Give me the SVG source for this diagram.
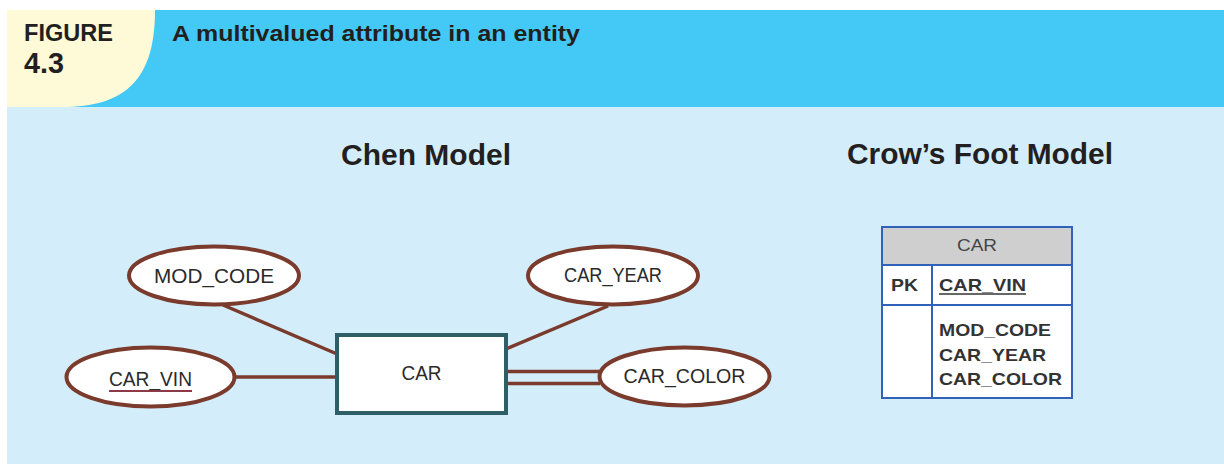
<svg xmlns="http://www.w3.org/2000/svg" width="1224" height="464" viewBox="0 0 1224 464">
  <style>
    .hdr { font-family: "Liberation Sans", Arial, sans-serif; font-weight: bold; fill: #231f20; }
    .attr { fill: #ffffff; stroke: #7a3a2c; stroke-width: 4; }
    .lbl { font-family: "Liberation Sans", Arial, sans-serif; font-size: 20px; fill: #2a2a2a; text-anchor: middle; }
    .link { stroke: #7a3a2c; stroke-width: 3.5; fill: none; }
    .tbl { font-family: "Liberation Sans", Arial, sans-serif; font-size: 17px; fill: #333333; }
    .grid { stroke: #2f62b8; stroke-width: 2; fill: none; }
  </style>

  <!-- page background and banner -->
  <rect x="0" y="0" width="1224" height="464" fill="#ffffff"/>
  <rect x="7" y="107" width="1217" height="357" fill="#d3eefa"/>
  <rect x="7" y="10" width="1217" height="97" fill="#44c8f5"/>
  <path d="M7,10 H155 C155,80 125,107 62,107 H7 Z" fill="#fef9d7"/>
  <text class="hdr" x="24" y="41" font-size="23" textLength="89" lengthAdjust="spacingAndGlyphs">FIGURE</text>
  <text class="hdr" x="24" y="73" font-size="30" textLength="40" lengthAdjust="spacingAndGlyphs">4.3</text>
  <text class="hdr" x="172" y="41" font-size="22" textLength="408" lengthAdjust="spacingAndGlyphs">A multivalued attribute in an entity</text>

  <!-- section headings -->
  <text class="hdr" x="341" y="165" font-size="29" textLength="170" lengthAdjust="spacingAndGlyphs">Chen Model</text>
  <text class="hdr" x="847" y="164" font-size="29" textLength="266" lengthAdjust="spacingAndGlyphs">Crow’s Foot Model</text>

  <!-- Chen model connectors -->
  <g id="connectors">
    <line class="link" x1="223" y1="305" x2="337" y2="354"/>
    <line class="link" x1="236" y1="377" x2="337" y2="377"/>
    <line class="link" x1="608" y1="306" x2="506" y2="349"/>
    <line class="link" x1="506" y1="371.5" x2="600" y2="371.5"/>
    <line class="link" x1="506" y1="383.5" x2="600" y2="383.5"/>
  </g>

  <!-- Chen model nodes -->
  <g id="mod-code">
    <ellipse class="attr" cx="214" cy="275.5" rx="85" ry="29"/>
    <text class="lbl" x="214" y="283" textLength="120" lengthAdjust="spacingAndGlyphs">MOD_CODE</text>
  </g>
  <g id="car-vin">
    <ellipse class="attr" cx="150.5" cy="377" rx="84" ry="29.5"/>
    <text class="lbl" x="150.5" y="386" textLength="83" lengthAdjust="spacingAndGlyphs">CAR_VIN</text>
    <line x1="109" y1="391" x2="192" y2="391" stroke="#8b3a46" stroke-width="2.2"/>
  </g>
  <g id="car-entity">
    <rect x="337" y="335" width="169" height="78" fill="#ffffff" stroke="#2e5f66" stroke-width="4"/>
    <text class="lbl" x="421.5" y="380" textLength="40" lengthAdjust="spacingAndGlyphs">CAR</text>
  </g>
  <g id="car-year">
    <ellipse class="attr" cx="613" cy="275.5" rx="85" ry="29"/>
    <text class="lbl" x="613" y="282" textLength="98" lengthAdjust="spacingAndGlyphs">CAR_YEAR</text>
  </g>
  <g id="car-color">
    <ellipse class="attr" cx="684.5" cy="376.5" rx="85" ry="29"/>
    <text class="lbl" x="684.5" y="383" textLength="122" lengthAdjust="spacingAndGlyphs">CAR_COLOR</text>
  </g>

  <!-- Crow's Foot entity table -->
  <g id="car-table">
    <rect x="882" y="227" width="190" height="171" fill="#ffffff"/>
    <rect x="882" y="227" width="190" height="38" fill="#cfcfcf"/>
    <rect class="grid" x="882" y="227" width="190" height="171"/>
    <line class="grid" x1="882" y1="265" x2="1072" y2="265"/>
    <line class="grid" x1="882" y1="305" x2="1072" y2="305"/>
    <line class="grid" x1="932" y1="265" x2="932" y2="398"/>
    <text class="tbl" x="977" y="251" text-anchor="middle" fill="#444444" style="fill:#444444" textLength="40" lengthAdjust="spacingAndGlyphs">CAR</text>
    <text class="tbl" x="891" y="290.5" font-weight="bold" textLength="27" lengthAdjust="spacingAndGlyphs">PK</text>
    <text class="tbl" x="939" y="290.5" font-weight="bold" textLength="87" lengthAdjust="spacingAndGlyphs">CAR_VIN</text>
    <line x1="939" y1="294" x2="1026" y2="294" stroke="#333333" stroke-width="1.5"/>
    <text class="tbl" x="939" y="336" font-weight="bold" textLength="112" lengthAdjust="spacingAndGlyphs">MOD_CODE</text>
    <text class="tbl" x="939" y="360.5" font-weight="bold" textLength="107" lengthAdjust="spacingAndGlyphs">CAR_YEAR</text>
    <text class="tbl" x="939" y="384.5" font-weight="bold" textLength="123" lengthAdjust="spacingAndGlyphs">CAR_COLOR</text>
  </g>
</svg>
